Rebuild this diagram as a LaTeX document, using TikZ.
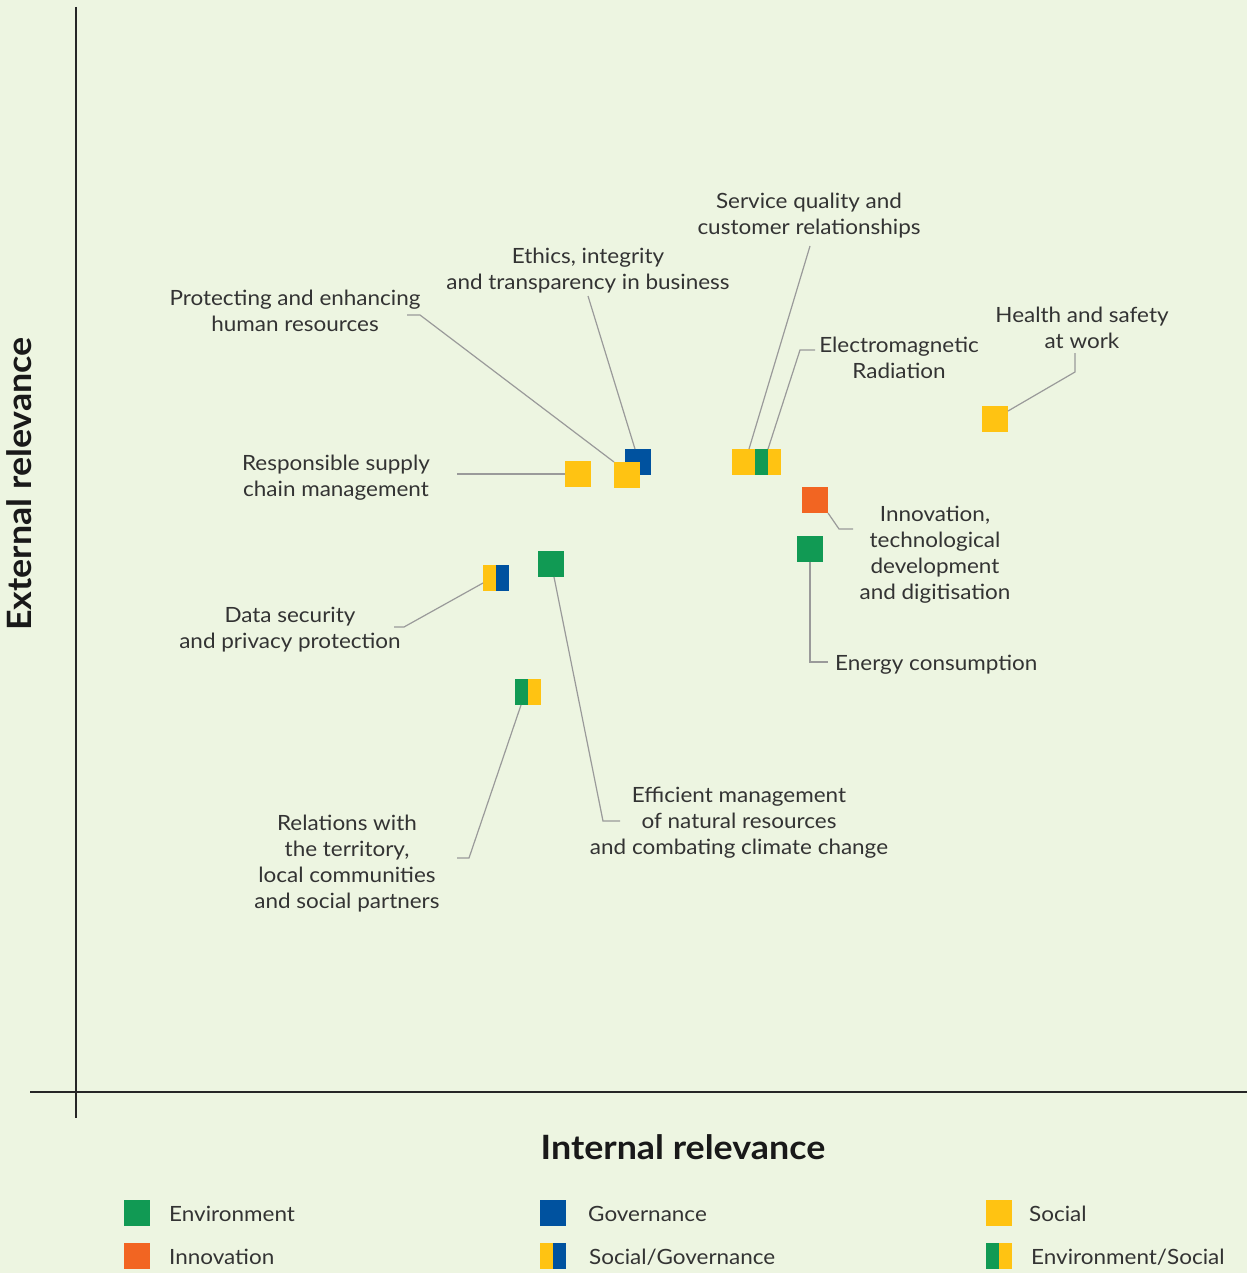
\documentclass[tikz,border=0pt]{standalone}
\usepackage{fontspec}
\setmainfont[FakeStretch=1.07]{Lato}
\definecolor{bg}{HTML}{EDF5E1}
\definecolor{envgreen}{HTML}{119A54}
\definecolor{govblue}{HTML}{00529F}
\definecolor{socyellow}{HTML}{FFC312}
\definecolor{innorange}{HTML}{F26522}
\definecolor{leader}{HTML}{9A9A9A}
\definecolor{ink}{HTML}{333333}
\definecolor{axisink}{HTML}{262626}
\tikzset{
  sq/.style={minimum size=26pt, inner sep=0pt, outer sep=0pt, draw=none, fill=#1},
  duo/.style 2 args={sq=#1, path picture={\fill[#2] (path picture bounding box.south) rectangle (path picture bounding box.north east);}},
  lbl/.style={font=\fontsize{21}{26}\selectfont, text=ink, align=center, inner sep=0pt},
  legtext/.style={font=\fontsize{21}{26}\selectfont, text=ink, anchor=west, inner sep=0pt},
  lead/.style={draw=leader, line width=1.2pt},
  axisline/.style={draw=axisink, line width=2pt},
  title/.style={font=\fontsize{33.5}{38}\selectfont\bfseries, text=black!90, inner sep=0pt}
}
\begin{document}
\begin{tikzpicture}[x=1pt,y=-1pt]
\fill[bg] (0,0) rectangle (1247,1273);
\useasboundingbox (0,0) rectangle (1247,1273);

% axes
\draw[axisline] (76,7) -- (76,1118);
\draw[axisline] (30,1092) -- (1247,1092);
\node[title, rotate=90] (ytitle) at (19,484) {External relevance};
\node[title] (xtitle) at (683,1147) {Internal relevance};

% topics
\node[sq=socyellow] (supply) at (578,474) {};
\node[sq=govblue] (ethics) at (638,462) {};
\node[sq=socyellow] (hr) at (627,475) {};
\node[sq=socyellow] (service) at (745,462) {};
\node[duo={envgreen}{socyellow}] (emr) at (768,462) {};
\node[sq=innorange] (innov) at (815,500) {};
\node[sq=envgreen] (energy) at (810,549) {};
\node[sq=socyellow] (health) at (995,419) {};
\node[duo={socyellow}{govblue}] (datasec) at (496,578) {};
\node[sq=envgreen] (natres) at (551,564) {};
\node[duo={envgreen}{socyellow}] (territory) at (528,692) {};

% labels
\node[lbl] (l-service) at (809,215.5) {Service quality and\\customer relationships};
\node[lbl] (l-ethics) at (588,270.5) {Ethics, integrity\\and transparency in business};
\node[lbl] (l-hr) at (295,311) {Protecting and enhancing\\human resources};
\node[lbl] (l-health) at (1082,328) {Health and safety\\at work};
\node[lbl] (l-emr) at (899,358) {Electromagnetic\\Radiation};
\node[lbl] (l-supply) at (336,478) {Responsible supply\\chain management};
\node[lbl] (l-innov) at (935,554.5) {Innovation,\\technological\\development\\and digitisation};
\node[lbl] (l-datasec) at (290,630) {Data security\\and privacy protection};
\node[lbl, anchor=west] (l-energy) at (835,665) {Energy consumption};
\node[lbl] (l-natres) at (739,822.5) {Efficient management\\of natural resources\\and combating climate change};
\node[lbl] (l-territory) at (347,863.5) {Relations with\\the territory,\\local communities\\and social partners};

% leader ends
\coordinate (e-emr) at (815,350);
\coordinate (e-health) at (1075,353);
\coordinate (e-hr) at (407,315);
\coordinate (e-supply) at (457,474);
\coordinate (e-innov) at (853,529);
\coordinate (e-energy) at (828,662);
\coordinate (e-datasec) at (394,627);
\coordinate (e-natres) at (620,821);
\coordinate (e-territory) at (457,858);

% leaders
\draw[lead] ([xshift=4pt]service.north) -- (810,246);
\draw[lead] ([xshift=-3pt]ethics.north) -- (588,296);
\draw[lead] (hr.north west) -- (420,315) -- (e-hr);
\draw[lead] (emr.north) -- (800,350) -- (e-emr);
\draw[lead] ([yshift=-5pt]health.north east) -- (1075,372) -- (e-health);
\draw[lead] (supply.west) -- (e-supply);
\draw[lead] (innov.south east) -- (839,529) -- (e-innov);
\draw[lead] (energy.south) -- (810,662) -- (e-energy);
\draw[lead] ([yshift=-5pt]datasec.west) -- (404,627) -- (e-datasec);
\draw[lead] ([xshift=3pt]natres.south) -- (603,821) -- (e-natres);
\draw[lead] ([xshift=-7pt]territory.south) -- (469,858) -- (e-territory);

% legend
\node[sq=envgreen] (k-env) at (137,1213) {};
\node[legtext] (t-env) at (169,1214) {Environment};
\node[sq=govblue] (k-gov) at (553,1213) {};
\node[legtext] (t-gov) at (588,1214) {Governance};
\node[sq=socyellow] (k-soc) at (999,1213) {};
\node[legtext] (t-soc) at (1029,1214) {Social};
\node[sq=innorange] (k-inn) at (137,1256) {};
\node[legtext] (t-inn) at (169,1257) {Innovation};
\node[duo={socyellow}{govblue}] (k-socgov) at (553,1256) {};
\node[legtext] (t-socgov) at (589,1257) {Social/Governance};
\node[duo={envgreen}{socyellow}] (k-envsoc) at (999,1256) {};
\node[legtext] (t-envsoc) at (1031,1257) {Environment/Social};
\end{tikzpicture}
\end{document}
